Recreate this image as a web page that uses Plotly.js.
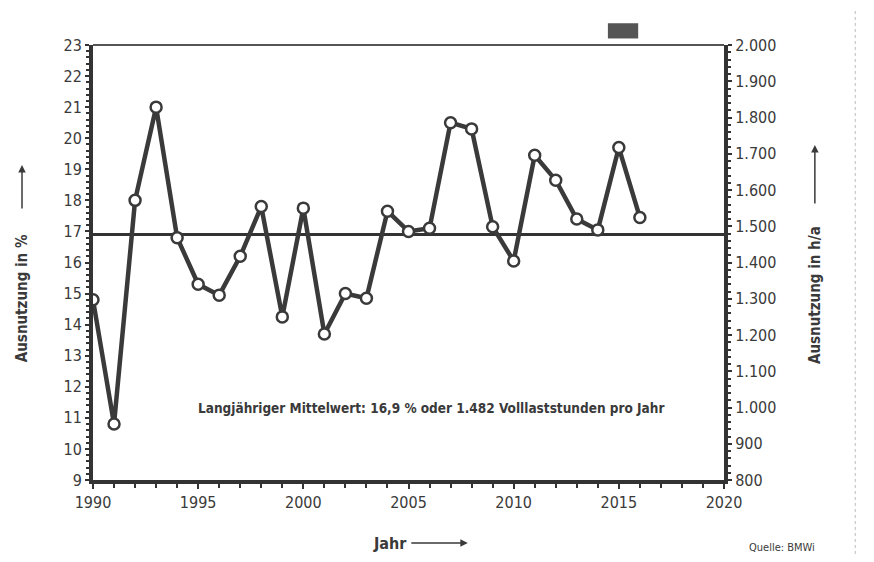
<!DOCTYPE html>
<html>
<head>
<meta charset="utf-8">
<script src="https://cdn.plot.ly/plotly-3.0.1.min.js"></script>
<style>html,body{margin:0;padding:0;background:#fff;}#chart{width:874px;height:562px;}</style>
</head>
<body>
<div id="chart"></div>
<script>
const years = [1990,1991,1992,1993,1994,1995,1996,1997,1998,1999,2000,2001,2002,2003,2004,2005,2006,2007,2008,2009,2010,2011,2012,2013,2014,2015,2016];
const utilisationPct = [14.8,10.8,18.0,21.0,16.8,15.3,14.95,16.2,17.8,14.25,17.75,13.7,15.0,14.85,17.65,17.0,17.1,20.5,20.3,17.15,16.05,19.45,18.65,17.4,17.05,19.7,17.45];
const meanYears = [1990, 2020];
const meanPct = [16.9, 16.9];
const meanHours = [1482, 1482];
const leftTicks = [9,10,11,12,13,14,15,16,17,18,19,20,21,22,23];
const rightTicks = [800,900,1000,1100,1200,1300,1400,1500,1600,1700,1800,1900,2000];
const xTicks = [1990,1995,2000,2005,2010,2015,2020];

const ink = '#333333';
const font = '"DejaVu Sans Condensed", "Liberation Sans Narrow", "DejaVu Sans", sans-serif';

const traces = [
  {x: meanYears, y: meanPct, mode: 'lines', line: {color: ink, width: 3}, hoverinfo: 'skip', showlegend: false},
  {x: years, y: utilisationPct, mode: 'lines+markers', line: {color: '#3a3a3a', width: 4.5},
   marker: {symbol: 'circle', size: 11, color: '#ffffff', line: {color: '#3a3a3a', width: 2.5}}, showlegend: false},
  {x: meanYears, y: meanHours, yaxis: 'y2', mode: 'lines', line: {color: 'rgba(0,0,0,0)', width: 0}, hoverinfo: 'skip', showlegend: false}
];

const layout = {
  width: 874, height: 562,
  margin: {l: 93, r: 150, t: 45, b: 82},
  paper_bgcolor: '#ffffff', plot_bgcolor: '#ffffff',
  separators: ',.',
  font: {family: font, color: '#3a3a3a', size: 15},
  xaxis: {
    range: [1990, 2020], tickvals: xTicks, ticktext: xTicks.map(String),
    showgrid: false, zeroline: false,
    showline: true, linecolor: ink, linewidth: 4, mirror: false,
    ticks: 'outside', ticklen: 5, tickwidth: 2, tickcolor: ink,
    minor: {dtick: 1, ticks: 'outside', ticklen: 4, tickwidth: 2, tickcolor: ink},
    tickfont: {size: 16, color: '#3a3a3a', family: font}
  },
  yaxis: {
    range: [9, 23], tickvals: leftTicks, ticktext: leftTicks.map(String),
    showgrid: false, zeroline: false,
    showline: true, linecolor: ink, linewidth: 4,
    ticks: 'outside', ticklen: 4, tickwidth: 2, tickcolor: ink,
    minor: {dtick: 0.2, ticks: 'outside', ticklen: 3, tickwidth: 2, tickcolor: ink},
    tickfont: {size: 16, color: '#3a3a3a', family: font}
  },
  yaxis2: {
    range: [800, 2000], overlaying: 'y', side: 'right',
    tickvals: rightTicks, tickformat: ',d',
    showgrid: false, zeroline: false,
    showline: true, linecolor: ink, linewidth: 4,
    ticks: 'outside', ticklen: 4, tickwidth: 2, tickcolor: ink,
    minor: {dtick: 20, ticks: 'outside', ticklen: 3, tickwidth: 2, tickcolor: ink},
    tickfont: {size: 16, color: '#3a3a3a', family: font}
  },
  shapes: [
    {type: 'line', xref: 'paper', yref: 'paper', x0: 0, x1: 1, y0: 1, y1: 1, line: {color: '#555', width: 2}},
    {type: 'rect', xref: 'paper', yref: 'paper', x0: 0.816, x1: 0.864, y0: 1.015, y1: 1.05, fillcolor: '#555', line: {width: 0}},
    {type: 'line', xref: 'paper', yref: 'paper', x0: 1.208, x1: 1.208, y0: -0.17, y1: 1.08, line: {color: '#bbb', width: 1, dash: 'dot'}}
  ],
  annotations: [
    {text: '<b>Langjähriger Mittelwert: 16,9 % oder 1.482 Volllaststunden pro Jahr</b>', xref: 'paper', yref: 'paper',
     x: 0.5357, y: 0.1655, xanchor: 'center', yanchor: 'middle', showarrow: false, font: {size: 13.5, family: font, color: '#3a3a3a'}},
    {text: '<b>Ausnutzung in %</b>', xref: 'paper', yref: 'paper', x: -0.1125, y: 0.418, xanchor: 'center', yanchor: 'middle', textangle: -90,
     showarrow: false, font: {size: 15, family: font, color: '#3a3a3a'}},
    {text: '', xref: 'paper', yref: 'paper', x: -0.1125, y: 0.724, ax: 0, ay: 45, showarrow: true,
     arrowhead: 2, arrowsize: 1, arrowwidth: 1.5, arrowcolor: '#3a3a3a'},
    {text: '<b>Ausnutzung in h/a</b>', xref: 'paper', yref: 'paper', x: 1.144, y: 0.425, xanchor: 'center', yanchor: 'middle', textangle: -90,
     showarrow: false, font: {size: 15, family: font, color: '#3a3a3a'}},
    {text: '', xref: 'paper', yref: 'paper', x: 1.144, y: 0.77, ax: 0, ay: 60, showarrow: true,
     arrowhead: 2, arrowsize: 1, arrowwidth: 1.5, arrowcolor: '#3a3a3a'},
    {text: '<b>Jahr</b>', xref: 'paper', yref: 'paper', x: 0.4707, y: -0.145, xanchor: 'center', yanchor: 'middle', showarrow: false,
     font: {size: 16, family: font, color: '#3a3a3a'}},
    {text: '', xref: 'paper', yref: 'paper', x: 0.594, y: -0.145, ax: -58, ay: 0, showarrow: true,
     arrowhead: 2, arrowsize: 1, arrowwidth: 1.5, arrowcolor: '#3a3a3a'},
    {text: 'Quelle: BMWi', xref: 'paper', yref: 'paper', x: 1.092, y: -0.156, xanchor: 'center', yanchor: 'middle', showarrow: false,
     font: {size: 11, family: font, color: '#3a3a3a'}}
  ]
};

Plotly.newPlot('chart', traces, layout, {displayModeBar: false, staticPlot: true});
</script>
</body>
</html>
